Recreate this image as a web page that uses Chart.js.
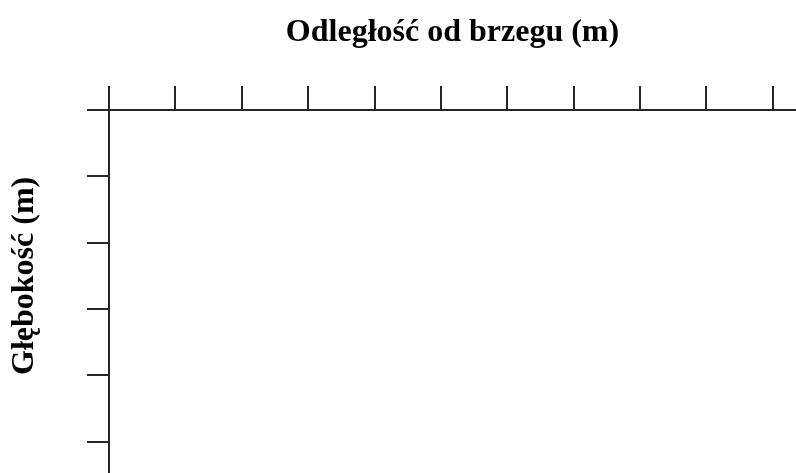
<!DOCTYPE html>
<html>
<head>
<meta charset="utf-8">
<script src="https://cdn.jsdelivr.net/npm/chart.js@4/dist/chart.umd.min.js"></script>
<style>
  html, body { margin: 0; padding: 0; background: #fff; }
  #wrap { width: 796px; height: 473px; }
</style>
</head>
<body>
<div id="wrap"><canvas id="c" width="796" height="473"></canvas></div>
<script>
// Data
const xTitle = "Odległość od brzegu (m)";
const yTitle = "Głębokość (m)";
const xTickValues = [0, 1, 2, 3, 4, 5, 6, 7, 8, 9, 10];
const yTickValues = [0, 1, 2, 3, 4, 5];
const xRange = [0, 10.35];
const yRange = [0, 5.47];
const seriesPoints = []; // empty chart – no measurements drawn

const lineColor = '#262626';
const fontFamily = '"Liberation Serif", "Times New Roman", serif';

// y-axis title centred on the labelled tick range (0..5), as in the reference
const yTitlePlugin = {
  id: 'yTitlePlugin',
  afterDraw(chart) {
    const y = chart.scales.y;
    const first = y.getPixelForValue(yTickValues[0]);
    const last = y.getPixelForValue(yTickValues[yTickValues.length - 1]);
    const ctx = chart.ctx;
    ctx.save();
    ctx.translate(25, (first + last) / 2);
    ctx.rotate(-Math.PI / 2);
    ctx.font = 'bold 32px ' + fontFamily;
    ctx.fillStyle = '#000';
    ctx.textAlign = 'center';
    ctx.textBaseline = 'middle';
    ctx.fillText(yTitle, 0, 0);
    ctx.restore();
  }
};

new Chart(document.getElementById('c'), {
  type: 'scatter',
  data: { datasets: [{ data: seriesPoints, showLine: false }] },
  plugins: [yTitlePlugin],
  options: {
    responsive: false,
    animation: false,
    layout: { padding: { left: 0, right: 0, top: 8, bottom: 0 } },
    plugins: { legend: { display: false }, tooltip: { enabled: false } },
    scales: {
      x: {
        type: 'linear',
        position: 'top',
        min: xRange[0], max: xRange[1],
        afterBuildTicks: s => { s.ticks = xTickValues.map(v => ({ value: v })); },
        afterFit: s => { s.height = 102; },
        ticks: { display: false },
        grid: { drawOnChartArea: false, drawTicks: true, tickLength: 24, color: lineColor, lineWidth: 2 },
        border: { display: true, color: lineColor, width: 2 },
        title: {
          display: true, text: xTitle, color: '#000',
          font: { family: fontFamily, size: 32, weight: 'bold' },
          padding: { top: 6, bottom: 4 }
        }
      },
      y: {
        type: 'linear',
        position: 'left',
        reverse: true,
        min: yRange[0], max: yRange[1],
        afterBuildTicks: s => { s.ticks = yTickValues.map(v => ({ value: v })); },
        afterFit: s => { s.width = 109; },
        ticks: { display: false },
        grid: { drawOnChartArea: false, drawTicks: true, tickLength: 22, color: lineColor, lineWidth: 2 },
        border: { display: true, color: lineColor, width: 2 },
        title: { display: false }
      }
    }
  }
});
</script>
</body>
</html>
